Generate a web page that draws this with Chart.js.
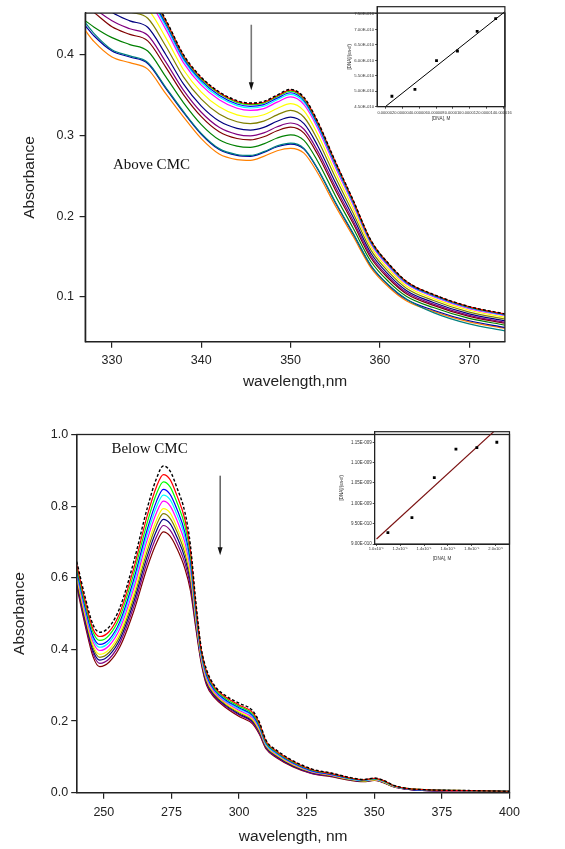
<!DOCTYPE html>
<html>
<head>
<meta charset="utf-8">
<script src="https://cdn.jsdelivr.net/npm/chart.js@4.4.0/dist/chart.umd.min.js"></script>
<style>
  html, body { margin: 0; padding: 0; background: #fff; }
  #page { position: relative; width: 565px; height: 849px; overflow: hidden; }
  canvas { position: absolute; }
</style>
</head>
<body>
<div id="page">
  <canvas id="chart-above" width="565" height="400" style="left:0;top:0;z-index:1"></canvas>
  <canvas id="chart-above-inset" width="245" height="130" style="left:320px;top:0;z-index:2"></canvas>
  <canvas id="chart-below" width="565" height="425" style="left:0;top:424px;z-index:1"></canvas>
  <canvas id="chart-below-inset" width="245" height="150" style="left:320px;top:424px;z-index:2"></canvas>
</div>
<script>

// ---- above CMC spectra (absorbance) ----
const wlAbove = [327, 328, 330, 332, 334, 336, 338, 340, 342, 344, 345.5, 347, 348.5, 350, 351.5, 353, 355, 357, 359, 361, 363, 366, 370, 374];

const aboveBlack   = [.555, .545, .502, .488, .480, .4437, .400, .372, .354, .343, .340, .342, .350, .357, .347, .318, .268, .220, .170, .141, .119, .103, .088, .079];
const aboveRed     = [.553, .543, .5005, .4866, .4786, .4424, .3989, .3709, .3529, .342, .339, .341, .349, .356, .346, .3171, .2672, .2194, .1695, .1406, .1187, .1027, .0877, .0787];
const aboveGreen   = [.551, .541, .499, .4852, .4772, .4411, .3978, .3698, .3518, .3409, .338, .340, .348, .3549, .345, .3162, .2664, .2187, .169, .1402, .1183, .1024, .0874, .0785];
const aboveBlue    = [.548, .538, .496, .4824, .4744, .4385, .3956, .3677, .3496, .3388, .3359, .3381, .3461, .3528, .3431, .3143, .2649, .2174, .1681, .1393, .1176, .1018, .0869, .078];
const aboveCyan    = [.545, .535, .493, .4796, .4716, .4358, .3934, .3655, .3474, .3368, .3339, .3361, .3441, .3508, .3411, .3125, .2633, .2162, .1671, .1385, .117, .1012, .0863, .0774];
const aboveMagenta = [.540, .530, .4885, .4754, .4674, .4319, .3901, .3622, .3441, .3336, .3309, .3332, .3411, .3476, .3381, .3098, .2609, .2142, .1656, .1373, .1159, .1003, .0855, .0767];
const aboveYellow  = [.525, .512, .4765, .4642, .4562, .4214, .3813, .3536, .3353, .3253, .3227, .3255, .3333, .3393, .3303, .3024, .2547, .2091, .1618, .1339, .1132, .0979, .0834, .0746];
const aboveOlive   = [.505, .492, .4645, .453, .445, .411, .3725, .3449, .3265, .3169, .3146, .3177, .3254, .3309, .3224, .2951, .2484, .2039, .1579, .1306, .1104, .0955, .0812, .0726];
const aboveNavy    = [.485, .472, .4525, .4418, .4338, .4005, .3637, .3362, .3177, .3086, .3065, .3099, .3175, .3226, .3145, .2878, .2421, .1988, .154, .1273, .1077, .0931, .079, .0705];
const abovePurple  = [.470, .458, .442, .432, .424, .3913, .356, .3286, .310, .3013, .2994, .3031, .3106, .3153, .3076, .2814, .2366, .1943, .1506, .1244, .1053, .091, .0771, .0687];
const aboveWine    = [.460, .452, .4345, .425, .417, .3848, .3505, .3232, .3045, .2961, .2944, .2983, .3057, .3101, .3027, .2769, .2327, .1911, .1482, .1224, .1036, .0895, .0758, .0674];
const aboveOlGreen = [.442, .434, .421, .4124, .4044, .373, .3406, .3134, .2946, .2867, .2852, .2895, .2968, .3007, .2938, .2686, .2256, .1853, .1438, .1186, .1005, .0868, .0733, .0651];
const aboveTeal    = [.4395, .426, .406, .3984, .3904, .3599, .3296, .3025, .2836, .2763, .2751, .2798, .2869, .2903, .2839, .2595, .2177, .1789, .1389, .1145, .0971, .0805, .0665, .058];
const aboveRoyal   = [.436, .423, .4045, .397, .389, .3586, .3285, .3014, .2825, .2752, .2741, .2789, .2859, .2892, .2829, .2586, .2169, .1782, .1384, .1141, .0967, .0835, .0704, .0623];
const aboveOrange  = [.430, .416, .397, .390, .382, .352, .323, .296, .277, .270, .269, .274, .281, .284, .278, .254, .213, .175, .136, .112, .095, .082, .069, .061];

const aboveXTicks = [330, 340, 350, 360, 370];
const aboveYTicks = [0.1, 0.2, 0.3, 0.4];

// ---- below CMC spectra ----
const wlBelow = [240, 243, 246, 248.5, 252, 256, 261, 266, 269.5, 272, 274.5, 277, 280, 282, 284, 286, 288, 291, 295, 300, 305, 307.5, 310, 314, 320, 327, 334, 340, 346, 350, 353, 357, 362, 370, 385, 400];

const belowBlack   = [.645, .548, .469, .448, .463, .518, .643, .793, .878, .912, .898, .852, .782, .692, .534, .405, .343, .298, .271, .250, .229, .197, .146, .118, .089, .066, .055, .044, .037, .041, .036, .021, .012, .008, .006, .004];
const belowRed     = [.636, .538, .457, .436, .450, .504, .625, .772, .855, .888, .874, .830, .762, .676, .524, .399, .337, .294, .267, .245, .224, .193, .143, .115, .087, .064, .054, .043, .036, .040, .035, .020, .012, .008, .006, .004];
const belowGreen   = [.628, .529, .448, .425, .440, .492, .610, .753, .835, .868, .854, .811, .744, .662, .516, .395, .333, .290, .263, .241, .220, .189, .140, .113, .085, .063, .053, .042, .036, .039, .034, .020, .012, .008, .006, .004];
const belowBlue    = [.620, .520, .437, .414, .428, .479, .594, .734, .814, .847, .833, .792, .726, .647, .508, .390, .328, .286, .259, .237, .216, .185, .138, .111, .083, .061, .051, .041, .035, .039, .034, .020, .011, .007, .006, .004];
const belowCyan    = [.614, .514, .430, .406, .420, .470, .582, .720, .799, .831, .818, .777, .713, .636, .501, .386, .324, .284, .256, .234, .213, .182, .135, .109, .082, .060, .051, .040, .034, .038, .033, .019, .011, .007, .006, .004];
const belowMagenta = [.608, .506, .421, .397, .411, .459, .569, .705, .782, .814, .801, .761, .698, .624, .494, .382, .320, .280, .253, .230, .209, .179, .133, .107, .080, .059, .050, .040, .034, .037, .032, .019, .011, .007, .005, .003];
const belowYellow  = [.600, .498, .412, .386, .400, .447, .554, .687, .762, .793, .781, .742, .681, .610, .486, .377, .315, .277, .250, .226, .205, .175, .131, .105, .078, .058, .049, .039, .033, .036, .031, .018, .011, .007, .005, .003];
const belowOlive   = [.594, .492, .405, .378, .392, .438, .543, .673, .748, .779, .766, .729, .668, .600, .480, .374, .312, .274, .247, .223, .202, .172, .129, .103, .077, .057, .048, .038, .033, .036, .031, .018, .011, .007, .005, .003];
const belowNavy    = [.588, .485, .397, .370, .384, .429, .531, .659, .732, .763, .751, .714, .655, .589, .474, .370, .308, .271, .244, .220, .199, .170, .127, .101, .075, .056, .047, .038, .032, .035, .030, .018, .010, .006, .005, .003];
const belowPurple  = [.582, .477, .389, .361, .374, .419, .518, .644, .715, .746, .733, .698, .640, .577, .467, .366, .304, .268, .241, .217, .196, .166, .124, .099, .074, .054, .046, .037, .032, .035, .030, .017, .010, .006, .005, .003];
const belowWine    = [.575, .470, .380, .352, .365, .408, .505, .628, .698, .728, .716, .682, .625, .565, .460, .362, .300, .265, .238, .213, .192, .163, .122, .097, .072, .053, .045, .036, .031, .034, .029, .017, .010, .006, .005, .003];

const belowXTicks = [250, 275, 300, 325, 350, 375, 400];
const belowYTicks = [0, 0.2, 0.4, 0.6, 0.8, 1.0];

// ---- insets: [DNA]/(ea-ef) vs [DNA] ----
const insetAboveDna = [2.73e-6, 5.47e-6, 8.04e-6, 10.53e-6, 12.88e-6, 15.08e-6];
const insetAboveRatio = [4.837e-10, 5.063e-10, 5.989e-10, 6.303e-10, 6.940e-10, 7.348e-10];
const insetAboveFitX = [1.70e-6, 16.18e-6];
const insetAboveFitY = [4.448e-10, 7.574e-10];
const insetAboveXTicks = [2e-6, 4e-6, 6e-6, 8e-6, 10e-6, 12e-6, 14e-6, 16e-6];
const insetAboveXLabels = ['0.000002', '0.000004', '0.000006', '0.000008', '0.000010', '0.000012', '0.000014', '0.000016'];
const insetAboveYTicks = [4.5e-10, 5.0e-10, 5.5e-10, 6.0e-10, 6.5e-10, 7.0e-10, 7.5e-10];
const insetAboveYLabels = ['4.50E-010', '5.00E-010', '5.50E-010', '6.00E-010', '6.50E-010', '7.00E-010', '7.50E-010'];

const insetBelowDna = [1.098e-5, 1.299e-5, 1.486e-5, 1.667e-5, 1.842e-5, 2.009e-5];
const insetBelowRatio = [9.28e-10, 9.65e-10, 10.63e-10, 11.33e-10, 11.37e-10, 11.50e-10];
const insetBelowFitX = [1.003e-5, 1.986e-5];
const insetBelowFitY = [9.123e-10, 11.77e-10];
const insetBelowXTicks = [1.0e-5, 1.2e-5, 1.4e-5, 1.6e-5, 1.8e-5, 2.0e-5];
const insetBelowXLabels = ['1.0x10\u207B\u2075', '1.2x10\u207B\u2075', '1.4x10\u207B\u2075', '1.6x10\u207B\u2075', '1.8x10\u207B\u2075', '2.0x10\u207B\u2075'];
const insetBelowYTicks = [9.0e-10, 9.5e-10, 1.0e-9, 1.05e-9, 1.10e-9, 1.15e-9];
const insetBelowYLabels = ['9.00E-010', '9.50E-010', '1.00E-009', '1.05E-009', '1.10E-009', '1.15E-009'];


Chart.defaults.font.family = '"Liberation Sans", Arial, sans-serif';
Chart.defaults.color = '#222';

const INK = '#222';

// box around the plot area (all four sides)
const frame = {
    id: 'frame',
    afterDraw(chart, args, opts) {
        const a = chart.chartArea;
        const ctx = chart.ctx;
        ctx.save();
        ctx.strokeStyle = INK;
        ctx.lineWidth = opts.width || 1.3;
        ctx.strokeRect(a.left, a.top, a.right - a.left, a.bottom - a.top);
        ctx.restore();
    }
};

function arrowDown(ctx, x, y0, y1, shaft, w) {
    ctx.strokeStyle = shaft;
    ctx.lineWidth = w;
    ctx.beginPath();
    ctx.moveTo(x, y0);
    ctx.lineTo(x, y1 - 7);
    ctx.stroke();
    ctx.fillStyle = '#111';
    ctx.beginPath();
    ctx.moveTo(x - 2.5, y1 - 8);
    ctx.lineTo(x + 2.5, y1 - 8);
    ctx.lineTo(x, y1);
    ctx.closePath();
    ctx.fill();
}

function spectrum(values, wl, color, dashed) {
    return {
        data: wl.map((w, i) => ({ x: w, y: values[i] })),
        borderColor: color,
        borderWidth: dashed ? 1.4 : 1.2,
        borderDash: dashed ? [3, 2] : [],
        pointRadius: 0,
        fill: false,
        cubicInterpolationMode: 'monotone'
    };
}

function mainScales(xMin, xMax, xTicks, yMin, yMax, yTicks, xTitle, o) {
    return {
        x: {
            type: 'linear', min: xMin, max: xMax,
            afterBuildTicks: s => { s.ticks = xTicks.map(v => ({ value: v })); },
            ticks: { font: { size: 12.5 }, padding: o.xPad, maxRotation: 0, autoSkip: false, color: INK,
                     callback: v => String(v) },
            grid: { drawOnChartArea: false, drawTicks: true, tickLength: 6, color: INK, lineWidth: 1.2 },
            border: { display: true, color: INK, width: 1.3 },
            title: { display: true, text: xTitle, font: { size: 15.5 }, color: INK, padding: { top: 0, bottom: o.xTitlePad } },
            afterFit: s => { s.height = o.xHeight; }
        },
        y: {
            type: 'linear', min: yMin, max: yMax,
            afterBuildTicks: s => { s.ticks = yTicks.map(v => ({ value: v })); },
            ticks: { font: { size: 12.5 }, padding: o.yPad, color: INK, callback: v => v.toFixed(1) },
            grid: { drawOnChartArea: false, drawTicks: true, tickLength: 5.6, color: INK, lineWidth: 1.2 },
            border: { display: true, color: INK, width: 1.3 },
            title: { display: true, text: 'Absorbance', font: { size: 15.5 }, color: INK, padding: { top: o.yTitlePad, bottom: 0 } },
            afterFit: s => { s.width = o.yWidth; }
        }
    };
}

const notesAbove = {
    id: 'notesAbove',
    afterDatasetsDraw(chart) {
        const x = chart.scales.x, y = chart.scales.y, ctx = chart.ctx;
        ctx.save();
        ctx.font = '15px "Liberation Serif", "Times New Roman", serif';
        ctx.fillStyle = '#111';
        ctx.textBaseline = 'middle';
        ctx.fillText('Above CMC', x.getPixelForValue(330.1), y.getPixelForValue(0.263));
        arrowDown(ctx, x.getPixelForValue(345.6), y.getPixelForValue(0.437), y.getPixelForValue(0.356), '#777', 1.6);
        ctx.restore();
    }
};

const notesBelow = {
    id: 'notesBelow',
    afterDatasetsDraw(chart) {
        const x = chart.scales.x, y = chart.scales.y, ctx = chart.ctx;
        ctx.save();
        ctx.font = '15px "Liberation Serif", "Times New Roman", serif';
        ctx.fillStyle = '#111';
        ctx.textBaseline = 'middle';
        ctx.fillText('Below CMC', x.getPixelForValue(252.8), y.getPixelForValue(0.958));
        arrowDown(ctx, x.getPixelForValue(293.0), y.getPixelForValue(0.885), y.getPixelForValue(0.663), '#111', 1);
        ctx.restore();
    }
};

const aboveChart = new Chart(document.getElementById('chart-above'), {
    type: 'line',
    data: {
        datasets: [
            spectrum(aboveBlack, wlAbove, '#000000', true),
            spectrum(aboveRed, wlAbove, '#ff0000'),
            spectrum(aboveGreen, wlAbove, '#00ff00'),
            spectrum(aboveBlue, wlAbove, '#0000ff'),
            spectrum(aboveCyan, wlAbove, '#00ffff'),
            spectrum(aboveMagenta, wlAbove, '#ff00ff'),
            spectrum(aboveYellow, wlAbove, '#ffff00'),
            spectrum(aboveOlive, wlAbove, '#808000'),
            spectrum(aboveNavy, wlAbove, '#000080'),
            spectrum(abovePurple, wlAbove, '#800080'),
            spectrum(aboveWine, wlAbove, '#800000'),
            spectrum(aboveOlGreen, wlAbove, '#008000'),
            spectrum(aboveTeal, wlAbove, '#008080'),
            spectrum(aboveRoyal, wlAbove, '#0000a0'),
            spectrum(aboveOrange, wlAbove, '#ff8000')
        ]
    },
    options: {
        responsive: false,
        animation: false,
        events: [],
        layout: { padding: { left: 0, top: 6.7, right: 60.1, bottom: 0 } },
        scales: mainScales(327, 374, aboveXTicks, 0.0445, 0.4514, aboveYTicks, 'wavelength,nm',
            { xPad: 5, xHeight: 58.3, xTitlePad: 9.3, yPad: 5.6, yWidth: 85.2, yTitlePad: 20.5 }),
        plugins: { legend: { display: false }, tooltip: { enabled: false }, frame: { width: 1.3 } }
    },
    plugins: [frame, notesAbove]
});

const belowChart = new Chart(document.getElementById('chart-below'), {
    type: 'line',
    data: {
        datasets: [
            spectrum(belowBlack, wlBelow, '#000000', true),
            spectrum(belowRed, wlBelow, '#ff0000'),
            spectrum(belowGreen, wlBelow, '#00ff00'),
            spectrum(belowBlue, wlBelow, '#0000ff'),
            spectrum(belowCyan, wlBelow, '#00ffff'),
            spectrum(belowMagenta, wlBelow, '#ff00ff'),
            spectrum(belowYellow, wlBelow, '#ffff00'),
            spectrum(belowOlive, wlBelow, '#808000'),
            spectrum(belowNavy, wlBelow, '#000080'),
            spectrum(belowPurple, wlBelow, '#800080'),
            spectrum(belowWine, wlBelow, '#800000')
        ]
    },
    options: {
        responsive: false,
        animation: false,
        events: [],
        layout: { padding: { left: 0, top: 7.7, right: 55.5, bottom: 0 } },
        scales: mainScales(240, 400, belowXTicks, 0, 1, belowYTicks, 'wavelength, nm',
            { xPad: 6, xHeight: 56.3, xTitlePad: 3.3, yPad: 3, yWidth: 76.8, yTitlePad: 10 }),
        plugins: { legend: { display: false }, tooltip: { enabled: false }, frame: { width: 1.3 } }
    },
    plugins: [frame, notesBelow]
});

function insetScales(o) {
    return {
        x: {
            type: 'linear', min: o.xMin, max: o.xMax,
            afterBuildTicks: s => { s.ticks = o.xTicks.map(v => ({ value: v })); },
            ticks: { font: { size: o.xFont }, padding: o.xPad, maxRotation: 0, minRotation: 0, autoSkip: false, color: '#333',
                     callback: (v, i) => o.xLabels[i] },
            grid: { drawOnChartArea: false, drawTicks: true, tickLength: 2, color: INK, lineWidth: 0.8 },
            border: { display: true, color: INK, width: 1 },
            title: { display: true, text: '[DNA], M', font: { size: 4.6 }, color: '#333', padding: { top: 0, bottom: o.xTitlePad } },
            afterFit: s => { s.height = o.xHeight; }
        },
        y: {
            type: 'linear', min: o.yMin, max: o.yMax,
            afterBuildTicks: s => { s.ticks = o.yTicks.map(v => ({ value: v })); },
            ticks: { font: { size: o.yFont }, padding: 1, color: '#333', callback: (v, i) => o.yLabels[i] },
            grid: { drawOnChartArea: false, drawTicks: true, tickLength: 2, color: INK, lineWidth: 0.8 },
            border: { display: true, color: INK, width: 1 },
            title: { display: true, text: '[DNA]/(\u03B5a-\u03B5f)', font: { size: 4.5 }, color: '#333', padding: { top: o.yTitlePad, bottom: 0 } },
            afterFit: s => { s.width = o.yWidth; }
        }
    };
}

const aboveInset = new Chart(document.getElementById('chart-above-inset'), {
    type: 'scatter',
    data: {
        datasets: [
            {
                data: insetAboveDna.map((v, i) => ({ x: v, y: insetAboveRatio[i] })),
                pointStyle: 'rect', pointRadius: 2.0, backgroundColor: '#000', borderWidth: 0
            },
            {
                data: insetAboveFitX.map((v, i) => ({ x: v, y: insetAboveFitY[i] })),
                showLine: true, pointRadius: 0, borderColor: '#000', borderWidth: 1
            }
        ]
    },
    options: {
        responsive: false,
        animation: false,
        events: [],
        layout: { padding: { left: 0, top: 6.7, right: 60.1, bottom: 0 } },
        scales: insetScales({
            xMin: 0.967e-6, xMax: 16.18e-6, xTicks: insetAboveXTicks, xLabels: insetAboveXLabels,
            yMin: 4.5e-10, yMax: 7.736e-10, yTicks: insetAboveYTicks, yLabels: insetAboveYLabels,
            xFont: 4.0, yFont: 4.3,
            xPad: 1.5, xHeight: 23.3, xTitlePad: 8.5, yWidth: 57.1, yTitlePad: 27.5
        }),
        plugins: { legend: { display: false }, tooltip: { enabled: false }, frame: { width: 1.2 } }
    },
    plugins: [frame]
});

const belowInset = new Chart(document.getElementById('chart-below-inset'), {
    type: 'scatter',
    data: {
        datasets: [
            {
                data: insetBelowDna.map((v, i) => ({ x: v, y: insetBelowRatio[i] })),
                pointStyle: 'rect', pointRadius: 2.0, backgroundColor: '#000', borderWidth: 0
            },
            {
                data: insetBelowFitX.map((v, i) => ({ x: v, y: insetBelowFitY[i] })),
                showLine: true, pointRadius: 0, borderColor: '#7a1010', borderWidth: 1.1
            }
        ]
    },
    options: {
        responsive: false,
        animation: false,
        events: [],
        layout: { padding: { left: 0, top: 7.7, right: 55.5, bottom: 0 } },
        scales: insetScales({
            xMin: 0.9876e-5, xMax: 2.115e-5, xTicks: insetBelowXTicks, xLabels: insetBelowXLabels,
            yMin: 9.0e-10, yMax: 1.176e-9, yTicks: insetBelowYTicks, yLabels: insetBelowYLabels,
            xFont: 4.1, yFont: 4.5,
            xPad: 0.5, xHeight: 30, xTitlePad: 13, yWidth: 54.7, yTitlePad: 19.5
        }),
        plugins: { legend: { display: false }, tooltip: { enabled: false }, frame: { width: 1.2 } }
    },
    plugins: [frame]
});
</script>
</body>
</html>
